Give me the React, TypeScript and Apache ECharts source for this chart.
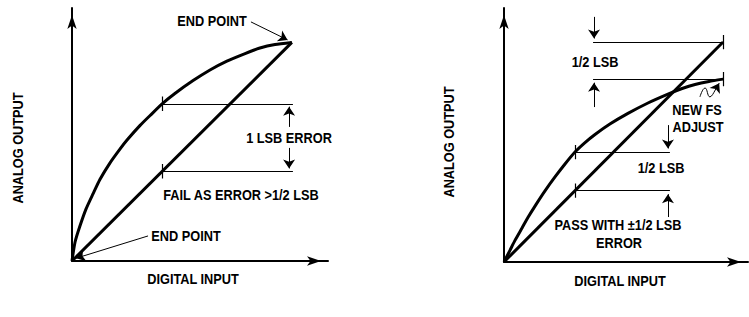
import { useEffect, useRef } from 'react';
import * as echarts from 'echarts';

type P = [number, number];

// Left panel: non-linear transfer curve and end-point straight line
const curveLeft: P[] = [
  [0, 0], [1.2, 7.5], [3.1, 13.8], [5.5, 20.6], [8.2, 26.5], [10.9, 32.2], [14.8, 38.7],
  [18.8, 44.3], [21.5, 47.8], [26.6, 53.6], [30.5, 57.5], [35.2, 62.1], [40.2, 66.2],
  [47.3, 71.3], [53.9, 75.5], [60.5, 79.0], [67.6, 82.0], [73.4, 84.2], [79.3, 85.6], [85.9, 86.4],
];
const lineLeft: P[] = [[0, 0], [85.9, 86.4]];
const hLinesLeft: P[][] = [[[35.2, 62.1], [86.3, 62.1]], [[35.2, 35.4], [86.3, 35.4]]];
const ticksLeft: P[][] = [[[35.2, 59.3], [35.2, 65]], [[35.2, 32.6], [35.2, 38.3]]];
const arrowsLeft: P[][] = [[[84.8, 53], [84.8, 61]], [[84.8, 44.7], [84.8, 36.6]]];
const pointersLeft: P[][] = [[[69.9, 94.5], [84.2, 87.4]], [[29.7, 9.9], [1.6, 1.1]]];

// Right panel: adjusted full scale
const curveRight: P[] = [
  [0, 0], [2.5, 4.7], [4.5, 8.5], [7.4, 13.4], [9.8, 17.5], [13.1, 22.6], [16.8, 28.0],
  [20.9, 33.5], [25.0, 38.6], [29.1, 43.3], [33.2, 47.0], [37.3, 50.2], [43.4, 54.3],
  [50.8, 58.5], [59.0, 62.6], [67.2, 66.1], [73.0, 68.3], [78.3, 69.9], [84.0, 71.1], [89.8, 72.0],
];
const lineRight: P[] = [[0, 0], [89.8, 86.6]];
const hLinesRight: P[][] = [[[36.5, 86.6], [89.8, 86.6]], [[36.5, 72], [89.8, 72]], [[29.1, 43.3], [68, 43.3]], [[29.1, 28.1], [68, 28.1]]];
const ticksRight: P[][] = [[[29.1, 40.5], [29.1, 46.1]], [[29.1, 25.3], [29.1, 30.9]], [[89.8, 83.8], [89.8, 89.4]], [[89.8, 69.2], [89.8, 74.8]]];
const arrowsRight: P[][] = [[[36.9, 96.5], [36.9, 88]], [[36.9, 61], [36.9, 70.6]], [[67.2, 53.9], [67.2, 44.7]], [[67.2, 17.7], [67.2, 26.7]]];
const squiggleRight: P[] = [[80.3, 65], [82.4, 68.5], [84.4, 65], [86.1, 66.9]];
const squiggleArrow: P[][] = [[[86.1, 66.9], [88.2, 70.4]]];

const FONT = '"Liberation Sans", Arial, sans-serif';

const labels: { text: string; x: number; y: number; rot?: number }[] = [
  { text: 'END POINT', x: 212, y: 21 },
  { text: '1 LSB ERROR', x: 289, y: 138 },
  { text: 'FAIL AS ERROR >1/2 LSB', x: 241, y: 195 },
  { text: 'END POINT', x: 186, y: 236 },
  { text: 'ANALOG OUTPUT', x: 18, y: 148, rot: Math.PI / 2 },
  { text: 'DIGITAL INPUT', x: 193, y: 279 },
  { text: '1/2 LSB', x: 595, y: 62 },
  { text: 'NEW FS', x: 697, y: 110 },
  { text: 'ADJUST', x: 698, y: 127 },
  { text: '1/2 LSB', x: 661, y: 168 },
  { text: 'PASS WITH \u00B11/2 LSB', x: 618, y: 225 },
  { text: 'ERROR', x: 619, y: 243 },
  { text: 'ANALOG OUTPUT', x: 449, y: 142, rot: Math.PI / 2 },
  { text: 'DIGITAL INPUT', x: 620, y: 281 },
];

const axisCommon = {
  type: 'value' as const,
  min: 0,
  max: 100,
  splitLine: { show: false },
  axisTick: { show: false },
  axisLabel: { show: false },
  axisLine: {
    show: true,
    onZero: false,
    symbol: ['none', 'arrow'],
    symbolSize: [7, 14],
    symbolOffset: [0, -7],
    lineStyle: { color: '#000', width: 2 },
  },
};

function segs(idx: number, data: P[][], width: number, arrow: boolean) {
  return {
    type: 'lines',
    coordinateSystem: 'cartesian2d',
    xAxisIndex: idx,
    yAxisIndex: idx,
    silent: true,
    symbol: arrow ? ['none', 'arrow'] : ['none', 'none'],
    symbolSize: [5, 9],
    lineStyle: { color: '#000', width, opacity: 1, curveness: 0 },
    data: data.map((c) => ({ coords: c })),
  };
}

function lineSeries(idx: number, data: P[], width: number, smooth: boolean | number) {
  return {
    type: 'line',
    xAxisIndex: idx,
    yAxisIndex: idx,
    data,
    smooth,
    showSymbol: false,
    symbol: 'none',
    silent: true,
    lineStyle: { color: '#000', width },
  };
}

export default function App() {
  const ref = useRef<HTMLDivElement>(null);
  useEffect(() => {
    if (!ref.current) return;
    const chart = echarts.init(ref.current, undefined, { renderer: 'svg' });
    chart.setOption({
      animation: false,
      backgroundColor: '#fff',
      grid: [
        { left: 72, top: 8, width: 256, height: 253 },
        { left: 504, top: 8, width: 244, height: 254 },
      ],
      xAxis: [
        { ...axisCommon, gridIndex: 0 },
        { ...axisCommon, gridIndex: 1 },
      ],
      yAxis: [
        { ...axisCommon, gridIndex: 0 },
        { ...axisCommon, gridIndex: 1 },
      ],
      series: [
        lineSeries(0, curveLeft, 3, 0.2),
        lineSeries(0, lineLeft, 3, false),
        segs(0, hLinesLeft, 1, false),
        segs(0, ticksLeft, 1.2, false),
        segs(0, arrowsLeft, 1, true),
        segs(0, pointersLeft, 1, true),
        lineSeries(1, curveRight, 3, 0.2),
        lineSeries(1, lineRight, 3, false),
        segs(1, hLinesRight, 1, false),
        segs(1, ticksRight, 1.2, false),
        segs(1, arrowsRight, 1, true),
        lineSeries(1, squiggleRight, 1, 0.5),
        segs(1, squiggleArrow, 1, true),
      ],
      graphic: labels.map((l) => ({
        type: 'text',
        x: l.x,
        y: l.y,
        rotation: l.rot || 0,
        scaleX: 0.88,
        silent: true,
        style: {
          text: l.text,
          fill: '#000',
          fontFamily: FONT,
          fontWeight: 'bold',
          fontSize: 14.5,
          align: 'center',
          verticalAlign: 'middle',
        },
      })),
    });
    return () => chart.dispose();
  }, []);
  return (
    <div
      ref={ref}
      style={{ position: 'absolute', left: 0, top: 0, width: 749, height: 317, background: '#fff' }}
    />
  );
}
